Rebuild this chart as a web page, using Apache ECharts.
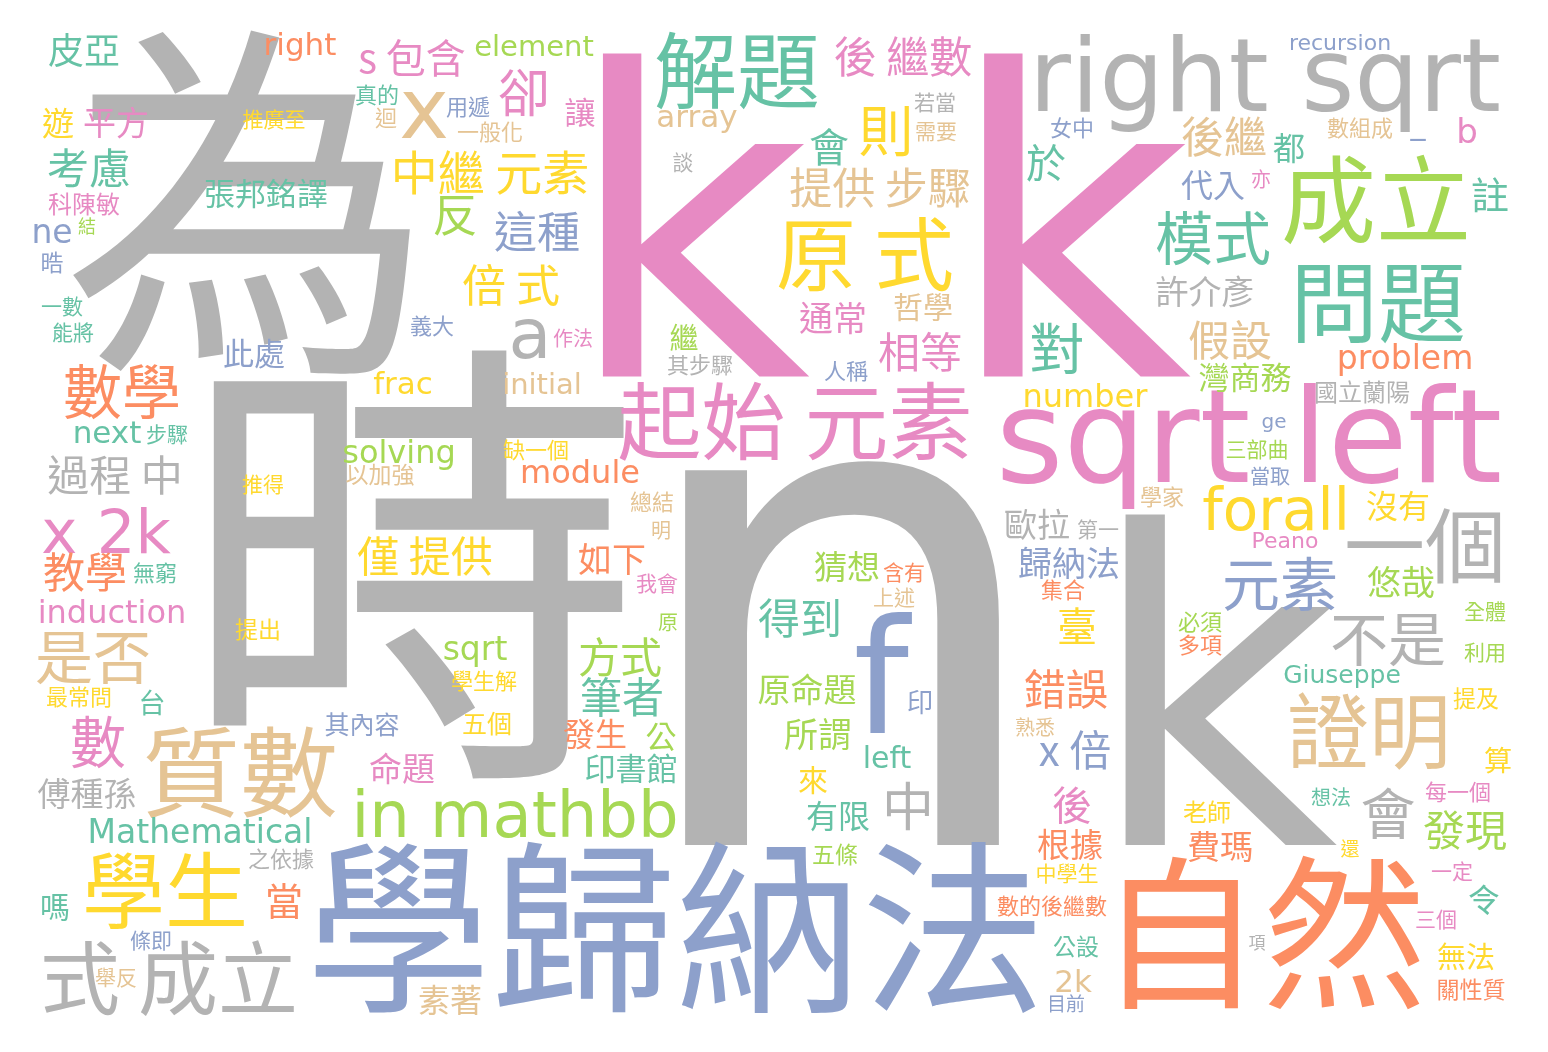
<!DOCTYPE html>
<html>
<head>
<meta charset="utf-8">
<script src="https://cdn.jsdelivr.net/npm/echarts/dist/echarts.min.js"></script>
<style>
html,body{margin:0;padding:0;background:#ffffff;}
#chart{width:1548px;height:1052px;}
</style>
</head>
<body>
<div id="chart"></div>
<script>
// Words of the cloud
const words = [
  "為","時","n","k","k k","學歸納法","自然","right sqrt","sqrt left","成立",
  "問題","解題","原 式","起始 元素","質數","證明","學生","式 成立","一個","f",
  "in mathbb","模式","元素","不是","數學","是否","x 2k","數","forall","x",
  "a","則","對","會","卻","中","中繼 元素","反","倍 式","這種",
  "後 繼數","提供 步驟","後繼","過程 中","教學","得到","方式","筆者","僅 提供","相等",
  "假設","發現","錯誤","x 倍","考慮","會","於","後","臺","s 包含",
  "註","當","皮亞","Mathematical","2k","ne","induction","歸納法","悠哉","所謂",
  "通常","如下","frac","b","problem","next","solving","sqrt","猜想","原命題",
  "命題","平方","許介彥","傅種孫","歐拉","費瑪","根據","都","沒有","有限",
  "發生","遊","代入","令","素著","module","number","initial","right","印書館",
  "公","灣商務","張邦銘譯","此處","讓","element","array","哲學","嗎","來",
  "left","_","無法","繼","算","台","印","Giuseppe","五個","其內容",
  "國立蘭陽","科陳敏","老師","recursion","晧","公設","提出","以加強","五條","提及",
  "關性質","真的","迴","用遞","一般化","義大","其步驟","女中","數組成","人稱",
  "缺一個","總結","學生解","無窮","最常問","之依據","集合","數的後繼數","學家","必須",
  "多項","每一個","推廣至","一數","能將","談","若當","需要","我會","推得",
  "步驟","條即","舉反","含有","上述","第一","中學生","三部曲","全體","利用",
  "一定","三個","Peano","作法","亦","明","原","熟悉","當取","想法",
  "ge","目前","還","結","項"
];
// Word weights (rendered as font size)
const weights = [
  372,465,685,435,425,185,164,102,130,95,
  88,83,80,84,98,82,83,80,81,158,
  64,58,58,58,59,58,61,56,58,84,
  70,55,55,55,52,52,47,45,44,43,
  43,43,43,42,42,42,42,42,42,42,
  42,42,42,42,42,40,40,40,40,40,
  38,38,36,33,31,33,32,34,34,34,
  34,34,31,34,33,31,32,33,33,33,
  33,33,33,33,33,33,33,32,32,32,
  32,32,32,32,32,32,32,29,31,31,
  31,31,31,31,31,29,31,30,30,30,
  30,30,29,29,28,27,26,25,25,25,
  24,24,24,22,23,23,23,23,23,23,
  23,22,22,22,22,22,22,22,22,22,
  22,22,22,22,22,22,22,22,22,22,
  22,22,21,21,21,21,21,21,21,21,
  21,21,21,21,21,21,21,21,21,21,
  21,21,22,20,20,20,20,20,20,20,
  20,19,19,18,17
];
// Cloud layout: word anchor on the canvas (x right, y down)
const layoutX = [
  248,411,840,1212,878,676,1262,1265,1249,1376,
  1378,737,865,795,240,1369,165,169,1425,881,
  515,1213,1280,1388,122,93,106,98,1276,424,
  530,886,1057,1388,524,908,490,455,511,537,
  903,880,1224,115,85,800,620,622,425,920,
  1230,1465,1066,1075,89,829,1046,1072,1077,412,
  1490,284,84,200,1073,52,112,1069,1401,818,
  833,612,403,1467,1405,107,399,475,847,807,
  402,116,1205,87,1037,1220,1070,1289,1398,838,
  595,58,1213,1484,450,580,1085,542,300,631,
  661,1245,266,254,580,534,697,923,55,813,
  887,1418,1466,684,1498,152,920,1342,487,362,
  1362,84,1207,1340,52,1076,258,380,835,1476,
  1471,377,386,468,490,432,700,1072,1360,846,
  536,652,484,155,79,281,1063,1052,1162,1200,
  1200,1458,274,62,73,683,935,936,657,263,
  167,151,116,904,894,1098,1067,1257,1485,1485,
  1452,1436,1285,573,1261,661,668,1035,1270,1331,
  1274,1066,1350,87,1257
];
const layoutY = [
  202,565,667,732,266,928,933,84,448,200,
  302,70,254,421,772,731,890,978,545,692,
  820,238,584,639,392,657,537,742,515,116,
  340,130,348,813,92,806,172,215,285,232,
  57,188,137,475,572,618,657,697,556,352,
  340,830,689,750,168,147,163,805,626,58,
  195,901,50,834,984,234,615,563,582,734,
  318,559,386,134,360,435,455,651,566,689,
  768,122,291,793,524,846,844,148,506,816,
  734,123,185,900,1000,475,399,386,47,768,
  736,377,193,353,112,48,119,307,907,780,
  760,126,957,338,760,703,702,676,723,724,
  392,204,812,44,262,946,629,474,854,698,
  989,95,118,107,132,326,365,128,128,371,
  450,502,681,573,697,859,590,906,497,622,
  645,792,119,306,332,162,102,131,583,484,
  434,940,977,572,597,529,873,449,611,652,
  871,919,542,338,179,530,622,727,476,797,
  423,1004,849,226,943
];
// Colour key of each word (Set2 palette)
const wordColor = (
  "AAAAPBOAPL" + "GGYPTTYAAB" + "LGBAOTPPYT" + "AYGAPAYLYB" +
  "PTTAOGLGYP" + "TLOBGGGPYP" + "GOGGTBPBLL" + "POYPOGLLLL" +
  "PPAAAOOGYG" + "OYBGTOYTOG" + "LLGBPLTTGY" + "GBYLYGBGYB" +
  "APYBBGYTLY" + "OGTBTBABTB" + "YTYGYAOOTL" + "OPYGGAATPY" +
  "GBTOTAYLLL" + "PPPPPTLTBG" + "BBYLA"
).split("");
const palette = {
  G: "#66c2a5", O: "#fc8d62", B: "#8da0cb", P: "#e78ac3",
  L: "#a6d854", Y: "#ffd92f", T: "#e5c494", A: "#b3b3b3"
};

const CJK_FONT = "'Noto Sans CJK TC', 'Noto Sans', sans-serif";
const LATIN_FONT = "'DejaVu Sans', 'Noto Sans CJK TC', sans-serif";
const hasCJK = s => /[\u3400-\u9fff]/.test(s);

const chart = echarts.init(document.getElementById("chart"), null, {renderer: "canvas"});
const data = words.map((w, i) => ({
  name: w,
  value: [layoutX[i], layoutY[i]],
  label: {
    fontSize: weights[i],
    color: palette[wordColor[i]],
    fontFamily: hasCJK(w) ? CJK_FONT : LATIN_FONT
  }
}));
chart.setOption({
  backgroundColor: "#ffffff",
  animation: false,
  grid: {left: 0, right: 0, top: 0, bottom: 0},
  xAxis: {type: "value", min: 0, max: 1548, show: false},
  yAxis: {type: "value", min: 0, max: 1052, inverse: true, show: false},
  series: [{
    type: "scatter",
    silent: true,
    symbolSize: 0.1,
    itemStyle: {color: "rgba(0,0,0,0)", opacity: 1},
    label: {
      show: true,
      position: "inside",
      align: "center",
      verticalAlign: "middle",
      opacity: 1,
      formatter: p => p.name,
      fontWeight: "normal"
    },
    emphasis: {disabled: true},
    data: data
  }]
});
</script>
</body>
</html>
